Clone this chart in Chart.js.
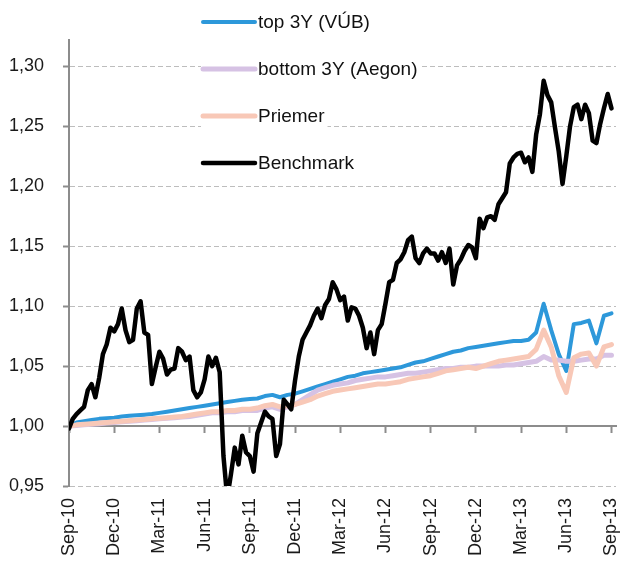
<!DOCTYPE html>
<html>
<head>
<meta charset="utf-8">
<script src="https://cdn.jsdelivr.net/npm/chart.js@4.4.1/dist/chart.umd.min.js"></script>
<style>
  html, body { margin: 0; padding: 0; background: #fff; }
  #wrap { width: 621px; height: 563px; }
</style>
</head>
<body>
<div id="wrap"><canvas id="fundsChart"></canvas></div>
<script>
// months since Sep-10; benchmark read every quarter of a month, funds every half month
const benchStep = 0.25;
const fundStep = 0.5;

const xTickLabels = ['Sep-10', 'Dec-10', 'Mar-11', 'Jun-11', 'Sep-11', 'Dec-11', 'Mar-12',
  'Jun-12', 'Sep-12', 'Dec-12', 'Mar-13', 'Jun-13', 'Sep-13'];
const yTickLabels = ['0,95', '1,00', '1,05', '1,10', '1,15', '1,20', '1,25', '1,30'];
const yTickValues = [0.95, 1.00, 1.05, 1.10, 1.15, 1.20, 1.25, 1.30];

const seriesNames = ['top 3Y (VÚB)', 'bottom 3Y (Aegon)', 'Priemer', 'Benchmark'];

const topVub = [
  1.000, 1.003, 1.004, 1.005, 1.006, 1.0065, 1.007, 1.008, 1.0085, 1.009,
  1.0095, 1.010, 1.011, 1.012, 1.013, 1.014, 1.015, 1.016, 1.017, 1.018,
  1.019, 1.020, 1.021, 1.022, 1.0225, 1.023, 1.025, 1.026, 1.024, 1.026,
  1.027, 1.029, 1.031, 1.033, 1.035, 1.037, 1.039, 1.041, 1.042, 1.044,
  1.045, 1.046, 1.047, 1.048, 1.049, 1.051, 1.053, 1.054, 1.056, 1.058,
  1.060, 1.062, 1.063, 1.065, 1.066, 1.067, 1.068, 1.069, 1.070, 1.071,
  1.071, 1.072, 1.078, 1.102, 1.080, 1.060, 1.046, 1.085, 1.086, 1.088,
  1.069, 1.092, 1.094
];

const bottomAegon = [
  1.000, 1.0005, 1.001, 1.0015, 1.002, 1.0025, 1.003, 1.0035, 1.004, 1.0045,
  1.005, 1.0055, 1.006, 1.0065, 1.007, 1.0075, 1.008, 1.009, 1.010, 1.011,
  1.011, 1.012, 1.012, 1.013, 1.013, 1.013, 1.015, 1.016, 1.014, 1.016,
  1.018, 1.022, 1.026, 1.030, 1.032, 1.034, 1.035, 1.036, 1.038, 1.039,
  1.040, 1.041, 1.041, 1.042, 1.043, 1.044, 1.044, 1.045, 1.046, 1.047,
  1.048, 1.048, 1.049, 1.049, 1.050, 1.050, 1.050, 1.050, 1.051, 1.051,
  1.052, 1.053, 1.054, 1.058, 1.055, 1.055, 1.054, 1.054, 1.055, 1.056,
  1.056, 1.059, 1.059
];

const priemer = [
  1.000, 1.001, 1.0015, 1.002, 1.0025, 1.003, 1.0035, 1.004, 1.0045, 1.005,
  1.0055, 1.006, 1.0065, 1.007, 1.0075, 1.008, 1.009, 1.010, 1.011, 1.012,
  1.012, 1.013, 1.013, 1.014, 1.014, 1.015, 1.017, 1.018, 1.016, 1.017,
  1.018, 1.020, 1.022, 1.025, 1.027, 1.029, 1.030, 1.031, 1.032, 1.033,
  1.034, 1.035, 1.035, 1.036, 1.037, 1.039, 1.040, 1.041, 1.042, 1.044,
  1.046, 1.047, 1.048, 1.049, 1.048, 1.050, 1.052, 1.054, 1.055, 1.056,
  1.057, 1.058, 1.064, 1.080, 1.066, 1.042, 1.028, 1.057, 1.060, 1.061,
  1.050, 1.066, 1.068
];

const benchmark = [
  0.998, 1.006, 1.010, 1.013, 1.016, 1.030, 1.035, 1.024, 1.040, 1.060,
  1.068, 1.082, 1.079, 1.085, 1.098, 1.080, 1.070, 1.072, 1.098, 1.104,
  1.078, 1.076, 1.035, 1.049, 1.062, 1.056, 1.043, 1.047, 1.048, 1.065,
  1.062, 1.055, 1.058, 1.030, 1.024, 1.028, 1.039, 1.058, 1.050, 1.057,
  1.045, 0.975, 0.940, 0.960, 0.982, 0.968, 0.992, 0.978, 0.975, 0.962,
  0.994, 1.003, 1.012, 1.008, 1.006, 0.975, 0.985, 1.022, 1.018, 1.014,
  1.038, 1.058, 1.072, 1.078, 1.084, 1.092, 1.098, 1.090, 1.101, 1.106,
  1.120, 1.114, 1.105, 1.108, 1.088, 1.099, 1.098, 1.092, 1.082, 1.065,
  1.078, 1.060, 1.080, 1.085, 1.102, 1.120, 1.122, 1.136, 1.139, 1.145,
  1.155, 1.158, 1.140, 1.136, 1.144, 1.148, 1.144, 1.144, 1.138, 1.145,
  1.136, 1.148, 1.118, 1.134, 1.139, 1.146, 1.151, 1.149, 1.140, 1.173,
  1.165, 1.174, 1.175, 1.172, 1.185, 1.190, 1.195, 1.219, 1.224, 1.227,
  1.228, 1.220, 1.224, 1.212, 1.243, 1.260, 1.288, 1.276, 1.270, 1.249,
  1.229, 1.202, 1.225, 1.250, 1.266, 1.268, 1.256, 1.268, 1.261, 1.238,
  1.236, 1.252, 1.265, 1.277, 1.265
];

const colors = ['rgb(45,152,218)', 'rgb(214,194,228)', 'rgb(248,200,183)', '#000000'];
const widths = [4, 5, 5, 4.5];

function toPoints(values, step) {
  return values.map((v, i) => ({ x: i * step, y: v }));
}

const fontFamily = '"Liberation Sans", Arial, sans-serif';

// legend drawn inside the plot, each entry on its own white patch
const innerLegend = {
  id: 'innerLegend',
  afterDraw(chart) {
    const ctx = chart.ctx;
    const x0 = 201, lineLen = 54, rowTop = 22, rowGap = 47;
    ctx.save();
    ctx.font = '19px ' + fontFamily;
    ctx.textBaseline = 'middle';
    chart.data.datasets.forEach((ds, i) => {
      const y = rowTop + i * rowGap;
      const tw = ctx.measureText(ds.label).width;
      ctx.fillStyle = '#ffffff';
      ctx.fillRect(x0, y - 12, lineLen + 4 + tw + 2, 24);
      ctx.strokeStyle = ds.borderColor;
      ctx.lineWidth = ds.borderWidth;
      ctx.lineCap = 'round';
      ctx.beginPath();
      ctx.moveTo(x0 + 2, y);
      ctx.lineTo(x0 + lineLen, y);
      ctx.stroke();
      ctx.fillStyle = '#111111';
      ctx.fillText(ds.label, x0 + lineLen + 3, y + 1);
    });
    ctx.restore();
  }
};

const allSeries = [topVub, bottomAegon, priemer, benchmark];
const drawOrder = [3, 2, 1, 0];

const data = {
  datasets: allSeries.map((vals, i) => ({
    label: seriesNames[i],
    data: toPoints(vals, i === 3 ? benchStep : fundStep),
    borderColor: colors[i],
    backgroundColor: colors[i],
    borderWidth: widths[i],
    pointRadius: 0,
    tension: 0,
    borderJoinStyle: 'round',
    borderCapStyle: 'round',
    order: drawOrder[i]
  }))
};

new Chart('fundsChart', {
  type: 'line',
  data: data,
  plugins: [innerLegend],
  options: {
    responsive: true,
    maintainAspectRatio: false,
    animation: false,
    layout: { padding: { top: 40, right: 5, left: 0, bottom: 0 } },
    plugins: {
      legend: { display: false },
      tooltip: { enabled: false }
    },
    scales: {
      x: {
        type: 'linear',
        min: 0,
        max: 36.3,
        afterBuildTicks(scale) {
          scale.ticks = xTickLabels.map((_, i) => ({ value: i * 3 }));
        },
        afterFit(scale) {
          scale.height = 77;
          scale.paddingLeft = 0;
          scale.paddingRight = 0;
        },
        grid: { display: false, drawTicks: false },
        border: { display: false },
        ticks: {
          autoSkip: false,
          minRotation: 90,
          maxRotation: 90,
          padding: 12,
          color: '#1a1a1a',
          font: { family: fontFamily, size: 18 },
          callback: (v) => xTickLabels[Math.round(v / 3)]
        }
      },
      xAxisAtOne: {
        type: 'linear',
        axis: 'x',
        position: { y: 1.0 },
        min: 0,
        max: 36.3,
        afterBuildTicks(scale) {
          scale.ticks = xTickLabels.map((_, i) => ({ value: i * 3 }));
        },
        afterFit(scale) {
          scale.paddingLeft = 0;
          scale.paddingRight = 0;
        },
        grid: { drawOnChartArea: false, drawTicks: true, tickLength: 6, tickColor: '#8c8c8c', tickWidth: 2 },
        border: { display: true, color: '#8c8c8c', width: 2 },
        ticks: { display: false }
      },
      y: {
        min: 0.95,
        max: 1.322,
        afterBuildTicks(scale) {
          scale.ticks = yTickValues.map(v => ({ value: v }));
        },
        afterFit(scale) { scale.width = 69; },
        grid: {
          color: '#bdbdbd',
          lineWidth: 1,
          tickLength: 6,
          tickColor: '#8c8c8c',
          tickWidth: 2,
          tickBorderDash: []
        },
        border: { display: true, color: '#8c8c8c', width: 2, dash: [5, 3] },
        ticks: {
          padding: 19,
          color: '#1a1a1a',
          font: { family: fontFamily, size: 18 },
          callback: (v) => yTickLabels[yTickValues.findIndex(t => Math.abs(t - v) < 1e-6)]
        }
      }
    }
  }
});
</script>
</body>
</html>
